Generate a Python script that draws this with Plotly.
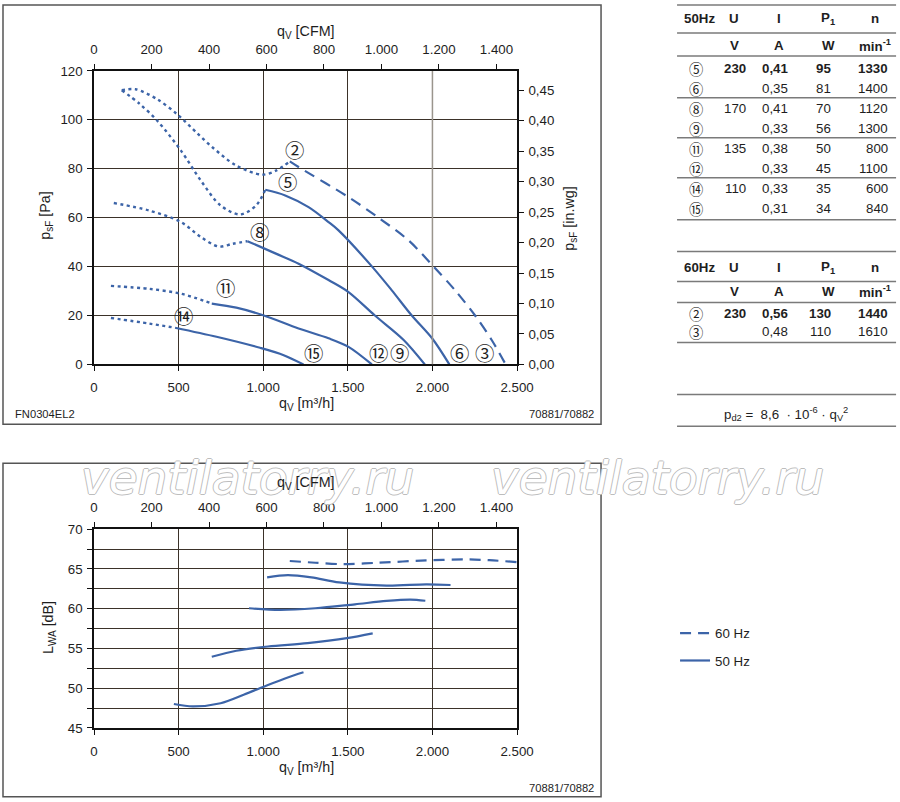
import plotly.graph_objects as go

# the photographed window shows page pixels scaled by ~0.977/0.983 with a small
# offset, so layout positions below are given in picture pixels and mapped back
AX, BX = 5.0, 0.977
AY, BY = 6.0, 0.983
W, H = 916, 810
FS = 1.02

BLUE = "#3c64a8"
GRID = "#3b3229"
TXT = "#1e1e1e"
FONT = "Liberation Sans"
CIRC = "Noto Sans CJK JP"

M3H_PER_CFM = 1.699
PA_PER_INWG = 249.089

# ---- pressure curves, q_V [m3/h] / p_sF [Pa] ----
c2_dot_q = [164, 245, 374, 491, 610, 701, 841, 993, 1075, 1157]
c2_dot_p = [112.1, 112.5, 108.4, 102.3, 94.5, 88.7, 81.3, 77.6, 79.2, 83.0]
c2_q = [1157, 1209, 1504, 1681, 1859, 2006, 2134, 2252, 2351, 2433]
c2_p = [83.0, 80.7, 68.4, 60.0, 50.7, 40.1, 30.3, 20.0, 9.9, 0]

c5_dot_q = [164, 270, 374, 514, 631, 748, 864, 958, 1012]
c5_dot_p = [112.1, 106.5, 99.6, 87.4, 75.2, 65.0, 61.3, 65.0, 71.4]
c5_q = [1012, 1130, 1268, 1386, 1445, 1642, 1760, 1878, 2000, 2100]
c5_p = [71.4, 69.1, 64.3, 58.2, 54.8, 40.1, 30.3, 20.0, 10.5, 0]

c8_dot_q = [117, 327, 514, 631, 736, 818, 907]
c8_dot_p = [66.0, 62.9, 58.2, 52.1, 48.2, 49.3, 50.4]
c8_q = [907, 1075, 1209, 1386, 1504, 1660, 1830, 1955]
c8_p = [50.4, 45.3, 41.2, 34.5, 29.6, 20.0, 10.0, 0]

c11_dot_q = [100, 327, 514, 696]
c11_dot_p = [32.1, 30.9, 28.9, 24.9]
c11_q = [696, 841, 1000, 1209, 1386, 1504, 1642]
c11_p = [24.9, 23.2, 20.1, 14.7, 10.7, 7.2, 0]

c14_dot_q = [100, 327, 479]
c14_dot_p = [19.0, 16.7, 15.0]
c14_q = [479, 724, 981, 1121, 1238]
c14_p = [15.0, 11.3, 6.8, 3.8, 0]

# curve labels (q, p)
lbl_txt = ["②", "⑤", "⑧", "⑪", "⑭", "⑮", "⑫", "⑨", "⑥", "③"]
lbl_q = [1187, 1145, 977, 776, 530, 1297, 1682, 1806, 2161, 2308]
lbl_p = [88.0, 74.9, 54.5, 31.4, 20.0, 4.8, 4.8, 4.8, 4.8, 4.8]

# ---- sound power, q_V [m3/h] / L_WA [dB] ----
s2_q = [1157, 1308, 1472, 1682, 1963, 2196, 2336, 2500]
s2_l = [66.0, 65.78, 65.6, 65.78, 66.07, 66.2, 66.1, 65.86]
s5_q = [1023, 1145, 1285, 1449, 1729, 1963, 2107]
s5_l = [63.94, 64.23, 63.94, 63.3, 62.9, 63.06, 62.98]
s8_q = [916, 1098, 1308, 1542, 1729, 1869, 1958]
s8_l = [60.05, 59.84, 60.05, 60.55, 60.97, 61.14, 61.0]
s11_q = [696, 841, 1028, 1262, 1495, 1647]
s11_l = [53.95, 54.7, 55.24, 55.66, 56.29, 56.9]
s14_q = [472, 584, 748, 888, 1028, 1145, 1238]
s14_l = [48.0, 47.7, 48.1, 49.2, 50.4, 51.35, 52.0]

# ---- tables ----
t50_id = ["⑤", "⑥", "⑧", "⑨", "⑪", "⑫", "⑭", "⑮"]
t50_U = ["230", "", "170", "", "135", "", "110", ""]
t50_I = ["0,41", "0,35", "0,41", "0,33", "0,38", "0,33", "0,33", "0,31"]
t50_P = ["95", "81", "70", "56", "50", "45", "35", "34"]
t50_n = ["1330", "1400", "1120", "1300", "800", "1100", "600", "840"]

t60_id = ["②", "③"]
t60_U = ["230", ""]
t60_I = ["0,56", "0,48"]
t60_P = ["130", "110"]
t60_n = ["1440", "1610"]


def px(x):
    return (x - AX) / BX / W


def py(y):
    return 1 - (y - AY) / BY / H


def fs(s):
    return round(s * FS, 1)


fig = go.Figure()

dot = dict(color=BLUE, width=2.4, dash="3px,3.5px", shape="spline", smoothing=0.9)
solid = dict(color=BLUE, width=2.2, shape="spline", smoothing=0.9)
dashed = dict(color=BLUE, width=2.2, dash="11px,7px", shape="spline", smoothing=0.9)

for q, p in [(c2_dot_q, c2_dot_p), (c5_dot_q, c5_dot_p), (c8_dot_q, c8_dot_p),
             (c11_dot_q, c11_dot_p), (c14_dot_q, c14_dot_p)]:
    fig.add_trace(go.Scatter(x=q, y=p, mode="lines", line=dot, showlegend=False,
                             xaxis="x", yaxis="y"))
fig.add_trace(go.Scatter(x=c2_q, y=c2_p, mode="lines", line=dashed, showlegend=False,
                         xaxis="x", yaxis="y"))
for q, p in [(c5_q, c5_p), (c8_q, c8_p), (c11_q, c11_p), (c14_q, c14_p)]:
    fig.add_trace(go.Scatter(x=q, y=p, mode="lines", line=solid, showlegend=False,
                             xaxis="x", yaxis="y"))

fig.add_trace(go.Scatter(x=s2_q, y=s2_l, mode="lines", line=dashed, name="60 Hz",
                         legendgroup="60", xaxis="x3", yaxis="y3"))
first = True
for q, l in [(s5_q, s5_l), (s8_q, s8_l), (s11_q, s11_l), (s14_q, s14_l)]:
    fig.add_trace(go.Scatter(x=q, y=l, mode="lines", line=solid, name="50 Hz",
                             legendgroup="50", showlegend=first, xaxis="x3", yaxis="y3"))
    first = False

# invisible helpers so the secondary (CFM / in.wg) axes get drawn
cfm_max = 2500 / M3H_PER_CFM
for xa, ya, xs, ys in [("x2", "y", [0, cfm_max], [0, 0]),
                       ("x", "y2", [0, 0], [0, 120 / PA_PER_INWG]),
                       ("x4", "y3", [0, cfm_max], [45, 45])]:
    fig.add_trace(go.Scatter(x=xs, y=ys, mode="lines", line=dict(width=0),
                             opacity=0, hoverinfo="skip", showlegend=False,
                             xaxis=xa, yaxis=ya))

tickfont = dict(family=FONT, size=fs(13), color=TXT)
ax = dict(showline=True, linecolor="#111", linewidth=1.5, ticks="outside", ticklen=5,
          tickcolor="#111", tickwidth=1, tickfont=tickfont, zeroline=False,
          separatethousands=True)

xd = [px(95), px(518)]
top_y = [py(364), py(70)]
bot_y = [py(728), py(529)]

fig.update_layout(
    width=W, height=H, margin=dict(l=0, r=0, t=0, b=0),
    paper_bgcolor="white", plot_bgcolor="white",
    separators=",.",
    font=dict(family=FONT, color=TXT),
    xaxis=dict(ax, domain=xd, range=[0, 2500], dtick=500, anchor="y",
               showgrid=True, gridcolor=GRID, gridwidth=1, ticklabelstandoff=5),
    xaxis2=dict(ax, range=[0, cfm_max], dtick=200, overlaying="x",
                side="top", anchor="y", showgrid=False, ticklabelstandoff=5),
    yaxis=dict(ax, domain=top_y, range=[0, 120], dtick=20, anchor="x",
               showgrid=True, gridcolor=GRID, gridwidth=1, ticklabelstandoff=2),
    yaxis2=dict(ax, range=[0, 120 / PA_PER_INWG], dtick=0.05, tickformat=".2f",
                overlaying="y", side="right", anchor="x", showgrid=False,
                ticklabelstandoff=2),
    xaxis3=dict(ax, domain=xd, range=[0, 2500], dtick=500, anchor="y3",
                showgrid=True, gridcolor=GRID, gridwidth=1, ticklabelstandoff=5),
    xaxis4=dict(ax, range=[0, cfm_max], dtick=200, overlaying="x3",
                side="top", anchor="y3", showgrid=False, ticklabelstandoff=5),
    yaxis3=dict(ax, domain=bot_y, range=[45, 70], dtick=5, anchor="x3", mirror=True,
                showgrid=True, gridcolor=GRID, gridwidth=1, ticklabelstandoff=2,
                minor=dict(dtick=2.5, showgrid=True, gridcolor=GRID, gridwidth=1,
                           ticks="outside", ticklen=5, tickcolor="#111")),
    legend=dict(x=px(676), y=py(618), xanchor="left", yanchor="top",
                font=dict(family=FONT, size=fs(13), color=TXT), bgcolor="rgba(0,0,0,0)",
                tracegroupgap=7, traceorder="grouped"),
)

ann = []

# watermark first, so every real label is drawn on top of it
outline = "1px 0 0 #bdbdbd, -1px 0 0 #bdbdbd, 0 1px 0 #bdbdbd, 0 -1px 0 #bdbdbd"
for x0 in [80, 490]:
    ann.append(dict(x=px(x0), y=py(477), xref="paper", yref="paper",
                    text="<i>ventilatorry.ru</i>", showarrow=False,
                    xanchor="left", yanchor="middle",
                    font=dict(family="DejaVu Sans", size=fs(46), color="white",
                              shadow=outline)))


def text(x, y, s, size=13, xanchor="center", angle=0, family=FONT):
    ann.append(dict(x=px(x), y=py(y), xref="paper", yref="paper", text=s,
                    showarrow=False, xanchor=xanchor, yanchor="middle",
                    textangle=angle, font=dict(family=family, size=fs(size), color=TXT)))


# curve labels
for t, q, p in zip(lbl_txt, lbl_q, lbl_p):
    ann.append(dict(x=q, y=p, xref="x", yref="y", text=t, showarrow=False,
                    font=dict(family=CIRC, size=fs(19), color=TXT)))

# axis titles / captions, top chart
text(307, 31, "q<sub>V</sub> [CFM]", 14)
text(47, 215, "p<sub>sF</sub> [Pa]", 14, angle=-90)
text(571, 218, "p<sub>sF</sub> [in.wg]", 14, angle=-90)
text(307, 404, "q<sub>V</sub> [m³/h]", 14)
text(14, 414, "FN0304EL2", 11, xanchor="left")
text(597, 414, "70881/70882", 11, xanchor="right")

# bottom chart
text(307, 483, "q<sub>V</sub> [CFM]", 14)
text(50, 628, "L<sub>WA</sub> [dB]", 14, angle=-90)
text(307, 768, "q<sub>V</sub> [m³/h]", 14)
text(597, 788, "70881/70882", 11, xanchor="right")

# tables
col_x = [697, 749, 791, 834, 891]


def table(y_head, y_unit, y_rows, step, hz, ids, U, I, P, n):
    text(683, y_head, "<b>%s</b>" % hz, 13, xanchor="left")
    text(735, y_head, "<b>U</b>", 13)
    text(780, y_head, "<b>I</b>", 13)
    text(829, y_head, "<b>P<sub>1</sub></b>", 13)
    text(876, y_head, "<b>n</b>", 13)
    text(735, y_unit, "<b>V</b>", 13)
    text(780, y_unit, "<b>A</b>", 13)
    text(829, y_unit, "<b>W</b>", 13)
    text(894, y_unit, "<b>min<sup>-1</sup></b>", 13, xanchor="right")
    for i, row in enumerate(zip(U, I, P, n)):
        y = y_rows + step * i
        text(col_x[0], y, ids[i], 14, family=CIRC)
        for cx, v in zip(col_x[1:], row):
            s = "<b>%s</b>" % v if i == 0 and v else v
            text(cx, y, s, 13, xanchor="right")


table(18, 45, 68, 20, "50Hz", t50_id, t50_U, t50_I, t50_P, t50_n)
table(267, 291, 313, 18, "60Hz", t60_id, t60_U, t60_I, t60_P, t60_n)

text(787, 414, "p<sub>d2</sub> =  8,6  · 10<sup>-6</sup> · q<sub>V</sub><sup>2</sup>", 13)

shapes = []
# the 2.000 m³/h grid line of the pressure chart is printed in a lighter grey
shapes.append(dict(type="line", xref="x", yref="y", x0=2000, x1=2000, y0=0, y1=120,
                   line=dict(color="#9a958d", width=1.5)))
for y in [4, 32, 55, 97, 137, 177, 219, 251, 281, 302, 342, 394, 426]:
    shapes.append(dict(type="line", xref="paper", yref="paper", x0=px(678), x1=px(897),
                       y0=py(y), y1=py(y), line=dict(color="#7a7a7a", width=1.5)))
for y0, y1 in [(4, 424), (463, 797)]:
    shapes.append(dict(type="rect", xref="paper", yref="paper", x0=px(4), x1=px(602),
                       y0=py(y1), y1=py(y0), line=dict(color="#555", width=1.5)))

fig.update_layout(annotations=ann, shapes=shapes)

# drop the default 8px body margin so the figure sits at the window origin
fig.write_html("out.html", config={"displayModeBar": False},
               post_script="document.body.style.margin='0';")
